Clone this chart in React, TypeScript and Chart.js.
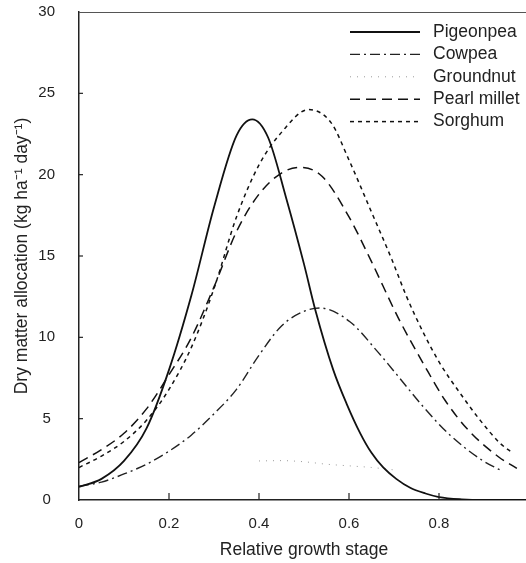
import React, { useEffect, useRef } from "react";
import { Chart, registerables } from "chart.js";

Chart.register(...registerables);

// ---- Data ----
const seriesNames = ["Pigeonpea", "Cowpea", "Groundnut", "Pearl millet", "Sorghum"];

const pigeonpeaX = [0, 0.05, 0.1, 0.15, 0.2, 0.25, 0.3, 0.35, 0.385, 0.42, 0.46, 0.5, 0.525, 0.565, 0.595, 0.625, 0.65, 0.676, 0.705, 0.736, 0.77, 0.8, 0.85, 0.9, 1.0];
const pigeonpeaY = [0.8, 1.3, 2.4, 4.4, 8.0, 12.6, 18.0, 22.4, 23.4, 22.3, 18.6, 14.5, 11.7, 8.0, 5.9, 4.1, 2.9, 2.0, 1.3, 0.75, 0.4, 0.18, 0.04, 0.0, 0.0];

const cowpeaX = [0, 0.05, 0.1, 0.15, 0.2, 0.25, 0.3, 0.35, 0.4, 0.45, 0.5, 0.536, 0.602, 0.661, 0.71, 0.765, 0.824, 0.895, 0.936];
const cowpeaY = [0.85, 1.1, 1.6, 2.2, 3.0, 4.0, 5.3, 6.8, 8.9, 10.7, 11.6, 11.8, 10.96, 9.2, 7.58, 5.73, 4.0, 2.46, 1.84];

const groundnutX = [0.4, 0.45, 0.5, 0.55, 0.6, 0.65, 0.7];
const groundnutY = [2.4, 2.42, 2.35, 2.2, 2.1, 2.0, 1.85];

const pearlMilletX = [0, 0.05, 0.1, 0.15, 0.2, 0.25, 0.3, 0.35, 0.4, 0.45, 0.49, 0.54, 0.6, 0.65, 0.71, 0.769, 0.813, 0.865, 0.932, 0.973];
const pearlMilletY = [2.3, 3.1, 4.1, 5.6, 7.7, 10.0, 13.1, 16.5, 18.8, 20.1, 20.45, 19.9, 17.4, 14.65, 11.17, 8.2, 6.15, 4.3, 2.66, 1.95];

const sorghumX = [0, 0.05, 0.1, 0.15, 0.2, 0.25, 0.3, 0.35, 0.4, 0.45, 0.51, 0.56, 0.6, 0.65, 0.695, 0.728, 0.765, 0.802, 0.847, 0.891, 0.936, 0.965];
const sorghumY = [2.0, 2.7, 3.6, 4.9, 6.8, 9.4, 13.0, 17.4, 20.6, 22.6, 24.0, 23.2, 20.9, 17.7, 14.8, 12.5, 10.3, 8.4, 6.56, 4.92, 3.48, 2.87];

const xTickValues = [0, 0.2, 0.4, 0.6, 0.8];
const xTickLabels = ["0", "0.2", "0.4", "0.6", "0.8"];
const yTickValues = [0, 5, 10, 15, 20, 25, 30];
const yTickLabels = ["0", "5", "10", "15", "20", "25", "30"];

const xTitle = "Relative growth stage";
const yTitle = "Dry matter allocation (kg ha\u207B\u00B9 day\u207B\u00B9)";

const FONT = "'Liberation Sans', Arial, Helvetica, sans-serif";

function pts(xs: number[], ys: number[]) {
  return xs.map((x, i) => ({ x, y: ys[i] }));
}

const innerTicks = {
  id: "innerTicks",
  afterDatasetsDraw(chart: any) {
    const { ctx, chartArea, scales } = chart;
    ctx.save();
    // top frame line
    ctx.strokeStyle = "#555";
    ctx.lineWidth = 1;
    ctx.beginPath();
    ctx.moveTo(chartArea.left, chartArea.top + 0.5);
    ctx.lineTo(chartArea.right, chartArea.top + 0.5);
    ctx.stroke();
    ctx.strokeStyle = "#222";
    ctx.lineWidth = 1.2;
    xTickValues.forEach((v) => {
      if (v === 0) return;
      const px = scales.x.getPixelForValue(v);
      ctx.beginPath();
      ctx.moveTo(px, chartArea.bottom);
      ctx.lineTo(px, chartArea.bottom - 7);
      ctx.stroke();
    });
    yTickValues.forEach((v) => {
      if (v === 0 || v === 30) return;
      const py = scales.y.getPixelForValue(v);
      ctx.beginPath();
      ctx.moveTo(chartArea.left, py);
      ctx.lineTo(chartArea.left + 4, py);
      ctx.stroke();
    });
    ctx.restore();
  },
};

const customLegend = {
  id: "customLegend",
  afterDatasetsDraw(chart: any) {
    const { ctx } = chart;
    const x0 = 350;
    const x1 = 420;
    const tx = 433;
    const y0 = 32;
    const dy = 22.4;
    ctx.save();
    chart.data.datasets.forEach((ds: any, i: number) => {
      const y = y0 + i * dy;
      ctx.strokeStyle = ds.borderColor;
      ctx.lineWidth = ds.borderWidth;
      ctx.setLineDash(ds.borderDash || []);
      ctx.beginPath();
      ctx.moveTo(x0, y);
      ctx.lineTo(x1, y);
      ctx.stroke();
      ctx.setLineDash([]);
      ctx.fillStyle = "#222";
      ctx.font = `17.5px ${FONT}`;
      ctx.textBaseline = "middle";
      ctx.textAlign = "left";
      ctx.fillText(ds.label, tx, y);
    });
    ctx.restore();
  },
};

export default function App() {
  const ref = useRef<HTMLCanvasElement | null>(null);

  useEffect(() => {
    if (!ref.current) return;
    const common = { pointRadius: 0, fill: false, cubicInterpolationMode: "monotone" as const };
    const chart = new Chart(ref.current, {
      type: "line",
      data: {
        datasets: [
          { label: seriesNames[0], data: pts(pigeonpeaX, pigeonpeaY), borderColor: "#111", borderWidth: 1.8, borderDash: [], ...common },
          { label: seriesNames[1], data: pts(cowpeaX, cowpeaY), borderColor: "#222", borderWidth: 1.4, borderDash: [10, 4, 2, 4], ...common },
          { label: seriesNames[2], data: pts(groundnutX, groundnutY), borderColor: "#999", borderWidth: 1, borderDash: [1, 6], ...common },
          { label: seriesNames[3], data: pts(pearlMilletX, pearlMilletY), borderColor: "#111", borderWidth: 1.5, borderDash: [10, 6], ...common },
          { label: seriesNames[4], data: pts(sorghumX, sorghumY), borderColor: "#111", borderWidth: 1.5, borderDash: [4, 4], ...common },
        ],
      },
      options: {
        responsive: false,
        animation: false,
        devicePixelRatio: 1,
        layout: { padding: { top: 12, right: 1, left: 0, bottom: 0 } },
        plugins: { legend: { display: false }, tooltip: { enabled: false } },
        scales: {
          x: {
            type: "linear",
            min: 0,
            max: 1,
            grid: { display: false },
            border: { display: true, color: "#222", width: 1.5 },
            afterFit: (s: any) => { s.height = 63; s.paddingLeft = 0; s.paddingRight = 0; },
            afterBuildTicks: (s: any) => { s.ticks = xTickValues.map((v) => ({ value: v })); },
            ticks: {
              autoSkip: false,
              maxRotation: 0,
              padding: 7,
              color: "#222",
              font: { family: FONT, size: 15 },
              callback: (v: any) => { const i = xTickValues.indexOf(Number(v)); return i >= 0 ? xTickLabels[i] : ""; },
            },
            title: { display: true, text: xTitle, color: "#222", font: { family: FONT, size: 17.5 }, padding: { top: 0, bottom: 2 } },
          },
          y: {
            type: "linear",
            min: 0,
            max: 30,
            grid: { display: false, drawTicks: false },
            border: { display: true, color: "#222", width: 1.5 },
            afterFit: (s: any) => { s.width = 79; s.paddingTop = 0; s.paddingBottom = 0; },
            afterBuildTicks: (s: any) => { s.ticks = yTickValues.map((v) => ({ value: v })); },
            ticks: {
              autoSkip: false,
              padding: 24,
              crossAlign: "center",
              color: "#222",
              font: { family: FONT, size: 15 },
              callback: (v: any) => { const i = yTickValues.indexOf(Number(v)); return i >= 0 ? yTickLabels[i] : ""; },
            },
            title: { display: true, text: yTitle, color: "#222", font: { family: FONT, size: 17.5 }, padding: { top: 12, bottom: 0 } },
          },
        },
      },
      plugins: [innerTicks, customLegend],
    });
    return () => chart.destroy();
  }, []);

  return (
    <div style={{ position: "absolute", left: 0, top: 0, width: 526, height: 563, overflow: "hidden", background: "#fff" }}>
      <canvas ref={ref} width={530} height={563} style={{ display: "block", width: 530, height: 563 }} />
    </div>
  );
}
